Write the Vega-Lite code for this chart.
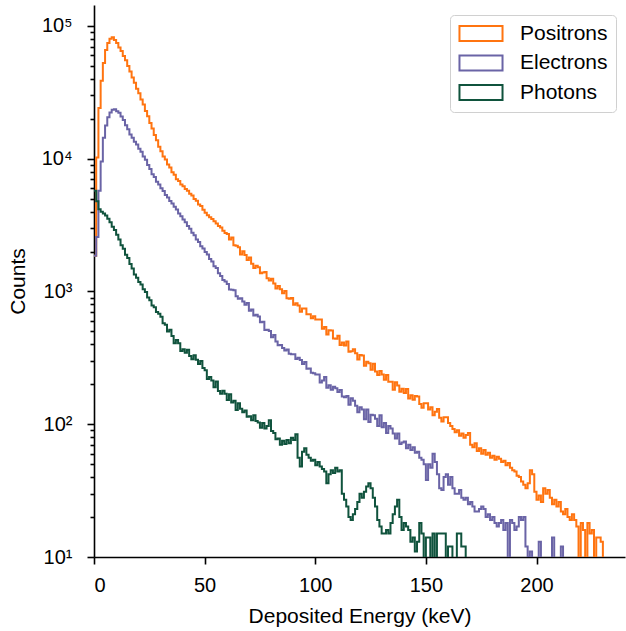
{
  "$schema": "https://vega.github.io/schema/vega-lite/v6.json",
  "autosize": {"type": "none"},
  "padding": {"left": 94, "top": 5, "right": 1, "bottom": 74},
  "width": 531,
  "height": 552,
  "background": "white",
  "config": {
    "view": {"stroke": null},
    "font": "Liberation Sans",
    "axis": {
      "grid": false,
      "zindex": 1,
      "domainColor": "black",
      "domainWidth": 1.6,
      "tickColor": "black",
      "tickWidth": 1.6,
      "labelColor": "black",
      "titleColor": "black",
      "labelFontSize": 20,
      "titleFontSize": 21,
      "titleFontWeight": "normal",
      "labelFont": "Liberation Sans",
      "titleFont": "Liberation Sans"
    }
  },
  "data": {
    "values": [
      {"x":0,"P":1860,"E":1860,"G":5750},
      {"x":1,"P":10200,"E":2570,"G":4790},
      {"x":2,"P":24100,"E":5750,"G":4170},
      {"x":3,"P":38700,"E":9550,"G":3990},
      {"x":4,"P":52600,"E":14400,"G":3870},
      {"x":5,"P":66000,"E":17800,"G":3740},
      {"x":6,"P":74300,"E":20500,"G":3530},
      {"x":7,"P":80200,"E":22300,"G":3330},
      {"x":8,"P":82400,"E":23400,"G":3070},
      {"x":9,"P":78300,"E":23600,"G":2900},
      {"x":10,"P":74400,"E":22800,"G":2670},
      {"x":11,"P":69000,"E":22200,"G":2460},
      {"x":12,"P":64800,"E":20800,"G":2230},
      {"x":13,"P":59400,"E":19600,"G":2100},
      {"x":14,"P":55200,"E":17900,"G":1890},
      {"x":15,"P":49900,"E":16700,"G":1790},
      {"x":16,"P":45400,"E":15200,"G":1610},
      {"x":17,"P":41000,"E":14400,"G":1490},
      {"x":18,"P":37300,"E":13400,"G":1340},
      {"x":19,"P":33700,"E":12800,"G":1270},
      {"x":20,"P":31100,"E":11900,"G":1180},
      {"x":21,"P":28000,"E":11300,"G":1130},
      {"x":22,"P":25600,"E":10400,"G":1040},
      {"x":23,"P":22900,"E":9820,"G":990},
      {"x":24,"P":20900,"E":8980,"G":900},
      {"x":25,"P":18600,"E":8360,"G":860},
      {"x":26,"P":16900,"E":7630,"G":785},
      {"x":27,"P":15100,"E":7280,"G":760},
      {"x":28,"P":13800,"E":6720,"G":700},
      {"x":29,"P":12300,"E":6410,"G":680},
      {"x":30,"P":11400,"E":6000,"G":645},
      {"x":31,"P":10400,"E":5720,"G":577},
      {"x":32,"P":9850,"E":5340,"G":561},
      {"x":33,"P":9050,"E":5100,"G":499},
      {"x":34,"P":8600,"E":4810,"G":514},
      {"x":35,"P":7900,"E":4600,"G":462},
      {"x":36,"P":7560,"E":4340,"G":408},
      {"x":37,"P":7010,"E":4150,"G":431},
      {"x":38,"P":6800,"E":3870,"G":407},
      {"x":39,"P":6400,"E":3690,"G":357},
      {"x":40,"P":6210,"E":3490,"G":367},
      {"x":41,"P":5920,"E":3330,"G":345},
      {"x":42,"P":5730,"E":3110,"G":364},
      {"x":43,"P":5460,"E":2970,"G":326},
      {"x":44,"P":5280,"E":2770,"G":309},
      {"x":45,"P":4970,"E":2650,"G":331},
      {"x":46,"P":4830,"E":2460,"G":306},
      {"x":47,"P":4530,"E":2360,"G":284},
      {"x":48,"P":4400,"E":2190,"G":300},
      {"x":49,"P":4130,"E":2110,"G":265},
      {"x":50,"P":3920,"E":1980,"G":255},
      {"x":51,"P":3760,"E":1900,"G":219},
      {"x":52,"P":3620,"E":1760,"G":227},
      {"x":53,"P":3520,"E":1680,"G":214},
      {"x":54,"P":3380,"E":1550,"G":190},
      {"x":55,"P":3250,"E":1500,"G":210},
      {"x":56,"P":3120,"E":1370,"G":178},
      {"x":57,"P":3030,"E":1310,"G":170},
      {"x":58,"P":2870,"E":1220,"G":179},
      {"x":59,"P":2760,"E":1190,"G":170},
      {"x":60,"P":2710,"E":1140,"G":152},
      {"x":61,"P":2460,"E":1035,"G":168},
      {"x":62,"P":2550,"E":1030,"G":146},
      {"x":63,"P":2230,"E":1020,"G":150},
      {"x":64,"P":2210,"E":920,"G":128},
      {"x":65,"P":2150,"E":880,"G":144},
      {"x":66,"P":1900,"E":890,"G":131},
      {"x":67,"P":2010,"E":842,"G":123},
      {"x":68,"P":1880,"E":795,"G":127},
      {"x":69,"P":1730,"E":820,"G":114},
      {"x":70,"P":1800,"E":716,"G":115},
      {"x":71,"P":1620,"E":732,"G":107},
      {"x":72,"P":1500,"E":660,"G":117},
      {"x":73,"P":1560,"E":669,"G":106},
      {"x":74,"P":1520,"E":647,"G":103},
      {"x":75,"P":1370,"E":586,"G":94},
      {"x":76,"P":1390,"E":591,"G":102},
      {"x":77,"P":1400,"E":513,"G":93},
      {"x":78,"P":1260,"E":515,"G":97},
      {"x":79,"P":1210,"E":504,"G":107},
      {"x":80,"P":1250,"E":452,"G":89},
      {"x":81,"P":1150,"E":470,"G":86},
      {"x":82,"P":1055,"E":420,"G":77},
      {"x":83,"P":1100,"E":394,"G":78},
      {"x":84,"P":1040,"E":396,"G":70},
      {"x":85,"P":970,"E":376,"G":75},
      {"x":86,"P":1010,"E":359,"G":71},
      {"x":87,"P":890,"E":366,"G":76},
      {"x":88,"P":880,"E":339,"G":72},
      {"x":89,"P":895,"E":336,"G":79},
      {"x":90,"P":795,"E":337,"G":76},
      {"x":91,"P":815,"E":310,"G":84},
      {"x":92,"P":785,"E":317,"G":56},
      {"x":93,"P":705,"E":305,"G":48},
      {"x":94,"P":745,"E":284,"G":62},
      {"x":95,"P":745,"E":294,"G":66},
      {"x":96,"P":675,"E":262,"G":59},
      {"x":97,"P":675,"E":263,"G":56},
      {"x":98,"P":630,"E":244,"G":53},
      {"x":99,"P":650,"E":242,"G":54},
      {"x":100,"P":615,"E":237,"G":49},
      {"x":101,"P":614,"E":237,"G":52},
      {"x":102,"P":616,"E":206,"G":48},
      {"x":103,"P":523,"E":214,"G":46},
      {"x":104,"P":541,"E":227,"G":44},
      {"x":105,"P":474,"E":188,"G":36},
      {"x":106,"P":510,"E":197,"G":42},
      {"x":107,"P":509,"E":182,"G":45},
      {"x":108,"P":442,"E":192,"G":43},
      {"x":109,"P":441,"E":187,"G":47},
      {"x":110,"P":465,"E":175,"G":44},
      {"x":111,"P":395,"E":181,"G":45},
      {"x":112,"P":413,"E":162,"G":30},
      {"x":113,"P":392,"E":160,"G":27},
      {"x":114,"P":420,"E":163,"G":24},
      {"x":115,"P":352,"E":140,"G":20},
      {"x":116,"P":354,"E":157,"G":19},
      {"x":117,"P":368,"E":150,"G":21},
      {"x":118,"P":343,"E":138,"G":23},
      {"x":119,"P":307,"E":123,"G":26},
      {"x":120,"P":333,"E":134,"G":30},
      {"x":121,"P":329,"E":129,"G":28},
      {"x":122,"P":276,"E":109,"G":31},
      {"x":123,"P":296,"E":129,"G":34},
      {"x":124,"P":288,"E":104,"G":36},
      {"x":125,"P":257,"E":118,"G":33},
      {"x":126,"P":286,"E":117,"G":28},
      {"x":127,"P":250,"E":110,"G":24},
      {"x":128,"P":235,"E":97,"G":19},
      {"x":129,"P":252,"E":117,"G":17},
      {"x":130,"P":237,"E":95,"G":15},
      {"x":131,"P":216,"E":102,"G":15},
      {"x":132,"P":235,"E":86,"G":16},
      {"x":133,"P":209,"E":97,"G":15},
      {"x":134,"P":209,"E":93,"G":18},
      {"x":135,"P":182,"E":85,"G":21},
      {"x":136,"P":207,"E":78,"G":24},
      {"x":137,"P":196,"E":85,"G":27},
      {"x":138,"P":176,"E":71,"G":20},
      {"x":139,"P":185,"E":73,"G":16},
      {"x":140,"P":172,"E":74,"G":18},
      {"x":141,"P":184,"E":66,"G":17},
      {"x":142,"P":156,"E":70,"G":16},
      {"x":143,"P":165,"E":64,"G":13},
      {"x":144,"P":153,"E":67,"G":14},
      {"x":145,"P":163,"E":61,"G":11},
      {"x":146,"P":162,"E":62,"G":13},
      {"x":147,"P":142,"E":56,"G":18},
      {"x":148,"P":133,"E":54,"G":15},
      {"x":149,"P":144,"E":50,"G":5},
      {"x":150,"P":144,"E":38,"G":14},
      {"x":151,"P":129,"E":50,"G":14},
      {"x":152,"P":134,"E":47,"G":6},
      {"x":153,"P":117,"E":60,"G":15},
      {"x":154,"P":124,"E":52,"G":6},
      {"x":155,"P":130,"E":42,"G":15},
      {"x":156,"P":112,"E":33,"G":15},
      {"x":157,"P":105,"E":32,"G":15},
      {"x":158,"P":113,"E":40,"G":15},
      {"x":159,"P":113,"E":42,"G":6},
      {"x":160,"P":102,"E":35,"G":12},
      {"x":161,"P":97,"E":40,"G":12},
      {"x":162,"P":92,"E":33,"G":7},
      {"x":163,"P":87,"E":30,"G":8},
      {"x":164,"P":90,"E":30,"G":15},
      {"x":165,"P":82,"E":32,"G":15},
      {"x":166,"P":85,"E":28,"G":12},
      {"x":167,"P":79,"E":27,"G":12},
      {"x":168,"P":83,"E":28,"G":1},
      {"x":169,"P":86,"E":25},
      {"x":170,"P":70,"E":26},
      {"x":171,"P":67,"E":24},
      {"x":172,"P":72,"E":22},
      {"x":173,"P":63,"E":22},
      {"x":174,"P":66,"E":23},
      {"x":175,"P":60,"E":24},
      {"x":176,"P":64,"E":23},
      {"x":177,"P":59,"E":20},
      {"x":178,"P":61,"E":21},
      {"x":179,"P":56,"E":19},
      {"x":180,"P":58,"E":20},
      {"x":181,"P":54,"E":18},
      {"x":182,"P":57,"E":17},
      {"x":183,"P":55,"E":18},
      {"x":184,"P":52,"E":19},
      {"x":185,"P":53,"E":16},
      {"x":186,"P":49,"E":18},
      {"x":187,"P":51,"E":6},
      {"x":188,"P":47,"E":19},
      {"x":189,"P":45,"E":18},
      {"x":190,"P":44,"E":16},
      {"x":191,"P":41,"E":17},
      {"x":192,"P":40,"E":20},
      {"x":193,"P":37,"E":19},
      {"x":194,"P":35,"E":20},
      {"x":195,"P":33,"E":12},
      {"x":196,"P":36,"E":10},
      {"x":197,"P":45,"E":11},
      {"x":198,"P":42,"E":7},
      {"x":199,"P":31,"E":8},
      {"x":200,"P":27,"E":6},
      {"x":201,"P":29,"E":13},
      {"x":202,"P":26,"E":7},
      {"x":203,"P":33,"E":5},
      {"x":204,"P":30,"E":6},
      {"x":205,"P":32,"E":8},
      {"x":206,"P":28,"E":5},
      {"x":207,"P":25,"E":14},
      {"x":208,"P":27,"E":6},
      {"x":209,"P":24,"E":7},
      {"x":210,"P":26,"E":5},
      {"x":211,"P":22,"E":12},
      {"x":212,"P":21,"E":6},
      {"x":213,"P":23,"E":1},
      {"x":214,"P":20},
      {"x":215,"P":19},
      {"x":216,"P":21},
      {"x":217,"P":19},
      {"x":218,"P":17},
      {"x":219,"P":8},
      {"x":220,"P":18},
      {"x":221,"P":16},
      {"x":222,"P":7},
      {"x":223,"P":18},
      {"x":224,"P":15},
      {"x":225,"P":16},
      {"x":226,"P":9},
      {"x":227,"P":14},
      {"x":228,"P":14},
      {"x":229,"P":13},
      {"x":230,"P":1}
    ]
  },
  "transform": [
    {"fold": ["P", "E", "G"], "as": ["s", "c"]},
    {"filter": "isValid(datum.c)"}
  ],
  "mark": {"type": "line", "interpolate": "step-after", "strokeWidth": 2, "clip": true},
  "encoding": {
    "x": {
      "field": "x",
      "type": "quantitative",
      "scale": {"domain": [0, 240], "nice": false, "zero": false},
      "axis": {
        "title": "Deposited Energy (keV)",
        "values": [0, 50, 100, 150, 200],
        "tickSize": 7,
        "labelPadding": 11,
        "titlePadding": 10
      }
    },
    "y": {
      "field": "c",
      "type": "quantitative",
      "scale": {"type": "log", "domain": [10, 143900], "nice": false},
      "axis": {
        "title": "Counts",
        "values": [10,20,30,40,50,60,70,80,90,100,200,300,400,500,600,700,800,900,1000,2000,3000,4000,5000,6000,7000,8000,9000,10000,20000,30000,40000,50000,60000,70000,80000,90000,100000],
        "tickSize": {"condition": {"test": "indexof([10,100,1000,10000,100000], datum.value) >= 0", "value": 7}, "value": 4},
        "labelExpr": "datum.value == 10 ? '10¹' : datum.value == 100 ? '10²' : datum.value == 1000 ? '10³' : datum.value == 10000 ? '10⁴' : datum.value == 100000 ? '10⁵' : ''",
        "labelPadding": 15,
        "titlePadding": 13
      }
    },
    "color": {
      "field": "s",
      "type": "nominal",
      "scale": {"domain": ["P", "E", "G"], "range": ["#ff7410", "#6a64a6", "#10533d"]},
      "legend": {
        "title": null,
        "orient": "none",
        "legendX": 356,
        "legendY": 10,
        "labelExpr": "datum.label == 'P' ? 'Positrons' : datum.label == 'E' ? 'Electrons' : 'Photons'",
        "symbolType": "M-2.87,-1H2.87V1H-2.87Z",
        "symbolSize": 225,
        "symbolOffset": 12.5,
        "symbolStrokeWidth": 2,
        "symbolFillColor": "white",
        "labelFontSize": 21,
        "labelFont": "Liberation Sans",
        "labelColor": "black",
        "labelOffset": 28.5,
        "padding": 8,
        "rowPadding": 6.5,
        "strokeColor": "#d0d0d0",
        "fillColor": "white",
        "cornerRadius": 4
      }
    }
  }
}
